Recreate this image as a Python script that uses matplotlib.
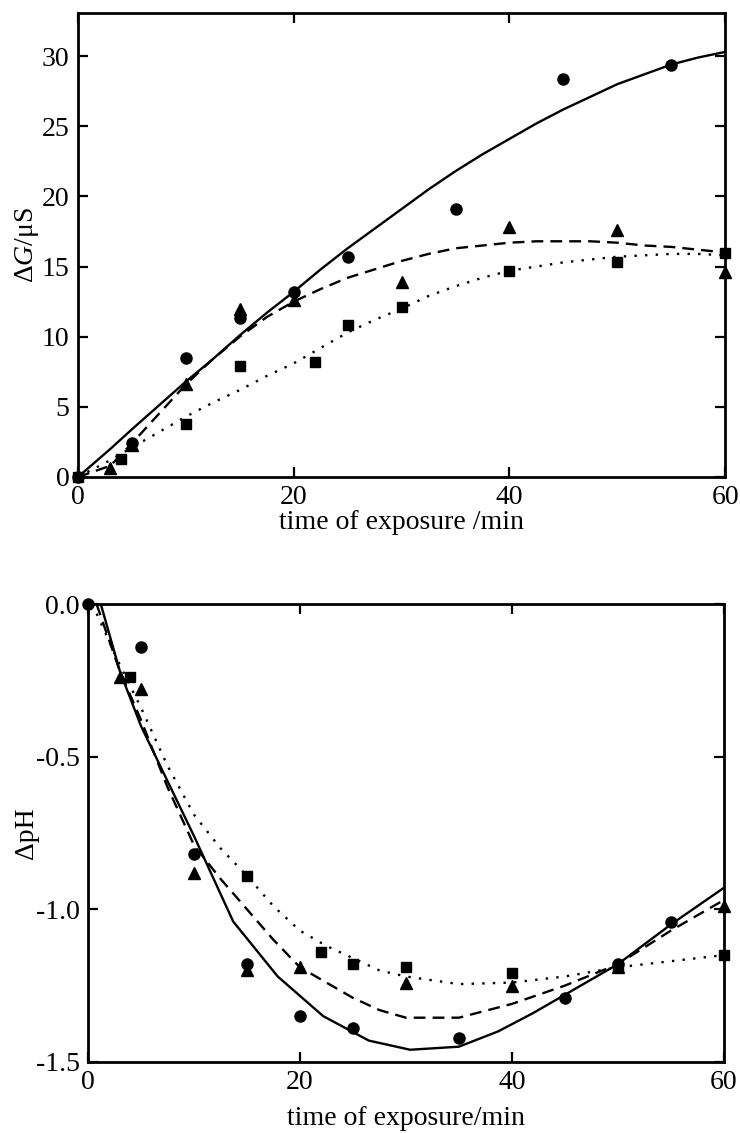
import matplotlib
matplotlib.use('agg')
import matplotlib.pyplot as plt

plt.rcParams['font.family'] = ['Liberation Serif', 'DejaVu Serif']
plt.rcParams['mathtext.fontset'] = 'custom'
plt.rcParams['mathtext.it'] = 'Liberation Serif:italic'
plt.rcParams['mathtext.rm'] = 'Liberation Serif'
plt.rcParams['axes.unicode_minus'] = False

# ---- top panel: conductance change ----
g_circ_t = [0, 5, 10, 15, 20, 25, 35, 45, 55]
g_circ_v = [0, 2.4, 8.5, 11.3, 13.2, 15.7, 19.1, 28.4, 29.4]
g_tri_t = [3, 5, 10, 15, 20, 30, 40, 50, 60]
g_tri_v = [0.65, 2.3, 6.6, 12.0, 12.6, 13.9, 17.8, 17.6, 14.6]
g_sq_t = [0, 4, 10, 15, 22, 25, 30, 40, 50, 60]
g_sq_v = [0, 1.3, 3.8, 7.9, 8.2, 10.8, 12.1, 14.7, 15.35, 16.0]

g_fit_t = [0, 3, 5, 7.5, 10, 12.5, 15, 17.5, 20, 22.5, 25, 27.5, 30, 32.5, 35,
           37.5, 40, 42.5, 45, 47.5, 50, 52.5, 55, 57.5, 60]
g_solid = [0, 2.0, 3.4, 5.1, 6.8, 8.4, 10.1, 11.7, 13.2, 14.8, 16.3, 17.7, 19.1,
           20.5, 21.8, 23.0, 24.1, 25.2, 26.2, 27.1, 28.0, 28.7, 29.4, 29.9, 30.3]
g_dash = [0, 0.8, 2.4, 4.5, 6.6, 8.4, 10.0, 11.4, 12.5, 13.4, 14.2, 14.8, 15.4,
          15.9, 16.3, 16.5, 16.7, 16.8, 16.8, 16.8, 16.7, 16.5, 16.4, 16.2, 16.0]
g_dot = [0, 1.2, 2.1, 3.2, 4.3, 5.3, 6.2, 7.2, 8.1, 9.2, 10.3, 11.2, 12.0,
         12.9, 13.6, 14.2, 14.7, 15.0, 15.3, 15.5, 15.7, 15.8, 15.9, 15.9, 15.8]

# ---- bottom panel: pH change ----
p_circ_t = [0, 5, 10, 15, 20, 25, 35, 45, 50, 55]
p_circ_v = [0, -0.14, -0.82, -1.18, -1.35, -1.39, -1.42, -1.29, -1.18, -1.04]
p_tri_t = [3, 5, 10, 15, 20, 30, 40, 50, 60]
p_tri_v = [-0.24, -0.28, -0.88, -1.20, -1.19, -1.24, -1.25, -1.19, -0.99]
p_sq_t = [4, 15, 22, 25, 30, 40, 50, 60]
p_sq_v = [-0.24, -0.89, -1.14, -1.18, -1.19, -1.21, -1.19, -1.15]

p_solid_t = [1.2, 3, 5, 7.5, 10, 13.7, 17.9, 22.2, 26.5, 30.4, 35, 38.7, 42, 45, 50, 55, 60]
p_solid_v = [0, -0.22, -0.40, -0.58, -0.76, -1.04, -1.22, -1.35, -1.43, -1.46,
             -1.45, -1.40, -1.34, -1.28, -1.18, -1.05, -0.93]
p_dash_t = [0.8, 3, 5, 7.5, 10, 12.5, 15, 17.5, 20, 22.5, 25, 27.5, 30, 35, 40, 45, 50, 55, 60]
p_dash_v = [0, -0.22, -0.38, -0.60, -0.79, -0.90, -1.00, -1.10, -1.19, -1.24, -1.29,
            -1.33, -1.355, -1.355, -1.31, -1.25, -1.18, -1.07, -0.97]
p_dot_t = [0.4, 3, 5, 7.5, 10, 12.5, 15, 17.5, 20, 22.5, 25, 27.5, 30, 35, 40, 45, 50, 55, 60]
p_dot_v = [0, -0.20, -0.34, -0.53, -0.69, -0.80, -0.89, -0.99, -1.07, -1.12, -1.16,
           -1.20, -1.22, -1.245, -1.24, -1.22, -1.19, -1.17, -1.15]

fig = plt.figure(figsize=(7.4, 11.33), dpi=100)
ax1 = fig.add_axes([0.1054, 0.579, 0.8746, 0.4095])
ax2 = fig.add_axes([0.119, 0.0627, 0.859, 0.4042])

mk = dict(color='black', linestyle='none', clip_on=False, zorder=5)
ln = dict(color='black', lw=1.7)

ax1.plot(g_fit_t, g_solid, '-', **ln)
ax1.plot(g_fit_t, g_dash, linestyle=(0, (5, 3)), **ln)
ax1.plot(g_fit_t, g_dot, linestyle=(0, (1, 3.5)), **ln)
ax1.plot(g_circ_t, g_circ_v, marker='o', ms=8, **mk)
ax1.plot(g_tri_t, g_tri_v, marker='^', ms=8.5, **mk)
ax1.plot(g_sq_t, g_sq_v, marker='s', ms=7, **mk)

ax2.plot(p_solid_t, p_solid_v, '-', **ln)
ax2.plot(p_dash_t, p_dash_v, linestyle=(0, (5, 3)), **ln)
ax2.plot(p_dot_t, p_dot_v, linestyle=(0, (1, 3.5)), **ln)
ax2.plot(p_circ_t, p_circ_v, marker='o', ms=8, **mk)
ax2.plot(p_tri_t, p_tri_v, marker='^', ms=8.5, **mk)
ax2.plot(p_sq_t, p_sq_v, marker='s', ms=7, **mk)

ax1.set_xlim(0, 60)
ax1.set_ylim(0, 33.07)
ax1.set_xticks([0, 20, 40, 60])
ax1.set_yticks([0, 5, 10, 15, 20, 25, 30])
ax1.set_xlabel('time of exposure /min', fontsize=20, labelpad=0)
ax1.set_ylabel(r'$\Delta G$/$\mathrm{\mu}$S', fontsize=20, labelpad=1)

ax2.set_xlim(0, 60)
ax2.set_ylim(-1.5, 0.0)
ax2.set_xticks([0, 20, 40, 60])
ax2.set_yticks([0.0, -0.5, -1.0, -1.5])
ax2.set_yticklabels(['0.0', '-0.5', '-1.0', '-1.5'])
ax2.set_xlabel('time of exposure/min', fontsize=20, labelpad=8)
ax2.set_ylabel('ΔpH', fontsize=20, labelpad=-2)

for ax in (ax1, ax2):
    for s in ax.spines.values():
        s.set_linewidth(2.0)
    ax.tick_params(direction='in', top=True, right=True, length=7, width=1.6,
                   labelsize=20, pad=6)

fig.savefig('out.png', dpi=100)
